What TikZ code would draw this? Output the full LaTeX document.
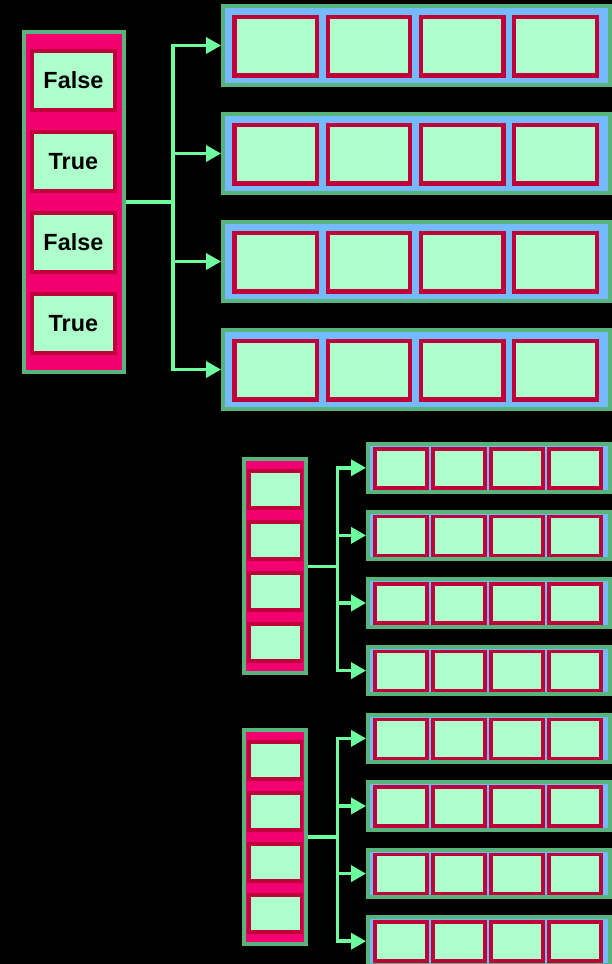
\documentclass[tikz,border=0pt]{standalone}
\usepackage{fontspec}
\setsansfont{Liberation Sans}
\usepackage{tikz}
\usetikzlibrary{positioning,arrows.meta,calc}

\definecolor{rosefill}{HTML}{F2006F}
\definecolor{cellred}{HTML}{C0003A}
\definecolor{mint}{HTML}{ADFFCC}
\definecolor{frame}{HTML}{56B47C}
\definecolor{skyfill}{HTML}{73BAFF}
\definecolor{wire}{HTML}{6DFF9F}

\tikzset{
  colbox/.style={draw=frame,fill=rosefill,line width=4pt,inner sep=0pt},
  rowbox/.style={draw=frame,fill=skyfill,line width=4pt,inner sep=0pt},
  cell/.style={draw=cellred,fill=mint,inner sep=0pt},
  flag/.style={font=\sffamily\bfseries\fontsize{23.4}{28}\selectfont},
  link/.style={wire,line width=3.6pt,-{Triangle[length=15pt,width=16pt]}},
}

\begin{document}
\begin{tikzpicture}[x=1pt,y=-1pt]
\useasboundingbox (0,0) rectangle (612,964);
\fill[black] (0,0) rectangle (612,964);

% big mask column and its four arrays
\node[colbox,minimum width=99.7pt,minimum height=340pt] (colA) at (73.8,202) {};
\foreach \lbl [count=\i] in {False,True,False,True}
  \node[cell,flag,line width=4.2pt,minimum width=82.5pt,minimum height=58.5pt] (cellA\i) at (73.4,{80.5+81*(\i-1)}) {\lbl};
\foreach \r in {1,...,4}{
  \node[rowbox,minimum width=387pt,minimum height=78.4pt] (rowA\r) at (416.5,{45.5+108*(\r-1)}) {};
  \foreach \c in {1,...,4}
    \node[cell,line width=4.2pt,minimum width=82.5pt,minimum height=58.5pt] (cellA\r-\c) at ({275.7+93.3*(\c-1)},{46.3+108*(\r-1)}) {};
}
\coordinate (hubA) at (173,202);
\foreach \r in {1,...,4}
  \draw[link] (colA.east) -- (hubA) |- (rowA\r.west);

% two small copies below
\foreach \g/\y in {B/566.3,C/836.9}{
  \node[colbox,minimum width=62.6pt,minimum height=214pt] (col\g) at (275,\y) {};
  \foreach \i in {1,...,4}
    \node[cell,line width=3.8pt,minimum width=52.8pt,minimum height=36.9pt] (cell\g\i) at (275,{\y-76.5+51*(\i-1)}) {};
  \foreach \r in {1,...,4}{
    \node[rowbox,minimum width=242pt,minimum height=47.6pt] (row\g\r) at (489,{\y-98.5+67.6*(\r-1)}) {};
    \foreach \c in {1,...,4}
      \node[cell,line width=3.6pt,minimum width=52.4pt,minimum height=39.1pt] (cell\g\r-\c) at ({401+58*(\c-1)},{\y-98+67.6*(\r-1)}) {};
  }
  \coordinate (hub\g) at (337.3,\y);
  \foreach \r in {1,...,4}
    \draw[link] (col\g.east) -- (hub\g) |- (row\g\r.west);
}
\end{tikzpicture}
\end{document}
